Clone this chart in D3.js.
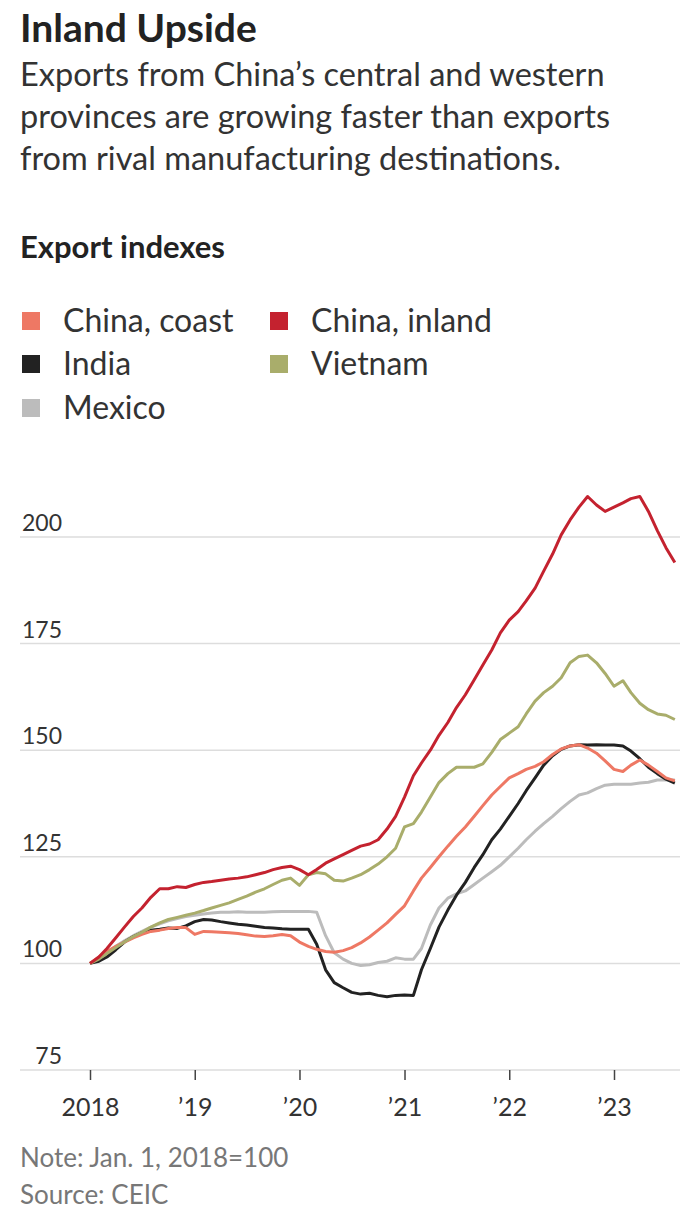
<!DOCTYPE html>
<html>
<head>
<meta charset="utf-8">
<script src="https://cdn.jsdelivr.net/npm/d3@7"></script>
<style>
  body { margin: 0; background: #fff; }
  svg { display: block; font-family: Lato, "Noto Sans", sans-serif; }
</style>
</head>
<body>
<div id="chart"></div>
<script>
// monthly points, Jan 2018 .. Aug 2023
var startMonth = new Date(2018, 0, 1);
var chinaCoast = [100, 101.5, 102.8, 104, 105, 106, 106.8, 107.5, 107.8, 108.2, 108.4, 108.4,
  106.8, 107.5, 107.4, 107.3, 107.2, 107, 106.7, 106.4, 106.3, 106.5, 106.8, 106.5,
  105, 104, 103.3, 102.8, 102.6, 103, 103.7, 104.8, 106.2, 107.8, 109.5, 111.5,
  113.5, 117, 120, 122.5, 125, 127.5, 129.8, 132, 134.5, 137, 139.5, 141.5,
  143.5, 144.5, 145.5, 146.2, 147.3, 149, 150.3, 151, 151.3, 150.5, 149.3, 147.5,
  145.5, 145, 146.5, 147.7, 146.5, 145, 143.5, 142.8];
var chinaInland = [100, 101.5, 103.5, 106, 108.5, 111, 113, 115.5, 117.5, 117.5, 118, 117.8,
  118.5, 119, 119.2, 119.5, 119.8, 120, 120.3, 120.8, 121.3, 122, 122.5, 122.8,
  122, 120.8, 122, 123.5, 124.5, 125.5, 126.5, 127.5, 128, 129, 131.5, 134.5,
  139, 144, 147, 150, 153.5, 156.5, 160, 163, 166.5, 170, 173.5, 177.5,
  180.5, 182.5, 185, 188, 192, 196, 200.5, 204, 207, 209.5, 207.5, 206,
  207, 208, 209, 209.5, 206, 201.5, 197.5, 194];
var india = [100, 100.5, 101.5, 103.2, 105, 106.3, 107.2, 107.8, 108, 108.3, 108.2, 108.8,
  109.8, 110.3, 110.2, 109.8, 109.5, 109.2, 109, 108.7, 108.4, 108.3, 108.1, 108,
  108, 108, 104.5, 98.5, 95.5, 94.3, 93.2, 92.8, 93, 92.5, 92.2, 92.5,
  92.6, 92.5, 98.5, 103.5, 108.5, 112.5, 116, 119, 122.5, 125.5, 129, 131.5,
  134.5, 137.5, 140.5, 143.5, 146.5, 148.7, 150.2, 151, 151.3, 151.2, 151.3, 151.2,
  151.2, 151, 149.8, 148, 146, 144.5, 143.2, 142.3];
var vietnam = [100, 101, 102.3, 103.7, 105, 106.3, 107.3, 108.5, 109.5, 110.3, 110.8, 111.3,
  111.8, 112.4, 113, 113.6, 114.2, 115, 115.8, 116.7, 117.5, 118.5, 119.5, 120,
  118.3, 120.8, 121.3, 121, 119.5, 119.3, 120, 120.8, 122, 123.3, 125, 127,
  132, 132.8, 135.5, 139, 142.4, 144.5, 146, 146, 146, 146.8, 149.5, 152.5,
  154, 155.5, 158.5, 161.5, 163.5, 165, 167, 170.5, 172, 172.3, 170.5, 168,
  165, 166.3, 163.5, 161, 159.5, 158.5, 158.2, 157.2];
var mexico = [100, 101, 102.5, 104, 105.3, 106.5, 107.5, 108.5, 109.3, 110, 110.5, 111,
  111.3, 111.6, 111.8, 112, 112, 112.1, 112, 112, 112, 112.1, 112.2, 112.2,
  112.2, 112.2, 112, 106.5, 102.5, 101, 100, 99.5, 99.7, 100.2, 100.5, 101.3,
  101, 101, 103.5, 109, 113, 115.3, 116.3, 117, 118.5, 120, 121.5, 123,
  125, 127, 129, 131, 132.8, 134.5, 136.3, 138, 139.5, 140, 141, 141.8,
  142, 142, 142, 142.3, 142.5, 143, 143, 143];

var seriesNames = ["China, coast", "China, inland", "India", "Vietnam", "Mexico"];
var seriesColors = ["#ee7864", "#c4222f", "#222222", "#a9ad6b", "#bcbcbc"];
var seriesValues = [chinaCoast, chinaInland, india, vietnam, mexico];
var drawOrder = [4, 2, 0, 3, 1];

var yTicks = [75, 100, 125, 150, 175, 200];
var xTickYears = [2018, 2019, 2020, 2021, 2022, 2023];
var xTickLabels = ["2018", "\u201919", "\u201920", "\u201921", "\u201922", "\u201923"];

var W = 690, H = 1217;
var svg = d3.select("#chart").append("svg")
  .attr("width", W)
  .attr("height", H);

var x = d3.scaleTime()
  .domain([new Date(2018, 0, 1), new Date(2023, 0, 1)])
  .range([90, 614]);
var y = d3.scaleLinear()
  .domain([75, 200])
  .range([1070, 537]);

// header
svg.append("text").attr("x", 20).attr("y", 42)
  .attr("font-size", 39).attr("font-weight", 700).attr("fill", "#222")
  .text("Inland Upside");

var sub = ["Exports from China\u2019s central and western",
  "provinces are growing faster than exports",
  "from rival manufacturing destinations."];
svg.selectAll("text.sub")
  .data(sub)
  .enter()
  .append("text")
  .attr("class", "sub")
  .attr("x", 20)
  .attr("y", function(d, i) { return 86 + i * 42; })
  .attr("font-size", 32.5)
  .attr("fill", "#333")
  .text(function(d) { return d; });

svg.append("text").attr("x", 20).attr("y", 258)
  .attr("font-size", 31).attr("font-weight", 700).attr("fill", "#222")
  .text("Export indexes");

// legend
var legendPos = [[22, 321], [270, 321], [22, 364], [270, 364], [22, 408]];
var leg = svg.selectAll("g.leg")
  .data(seriesNames)
  .enter()
  .append("g")
  .attr("class", "leg")
  .attr("transform", function(d, i) {
    return "translate(" + legendPos[i][0] + "," + legendPos[i][1] + ")";
  });
leg.append("rect")
  .attr("x", 0).attr("y", -9)
  .attr("width", 18).attr("height", 18)
  .attr("fill", function(d, i) { return seriesColors[i]; });
leg.append("text")
  .attr("x", 41).attr("y", 11)
  .attr("font-size", 32)
  .attr("fill", "#333")
  .text(function(d) { return d; });

// grid + y labels
svg.selectAll("line.grid")
  .data(yTicks)
  .enter()
  .append("line")
  .attr("class", "grid")
  .attr("x1", 20).attr("x2", 680)
  .attr("y1", function(d) { return y(d); })
  .attr("y2", function(d) { return y(d); })
  .attr("stroke", "#dddddd")
  .attr("stroke-width", 1.5);

svg.selectAll("text.ylab")
  .data(yTicks)
  .enter()
  .append("text")
  .attr("class", "ylab")
  .attr("x", 62)
  .attr("y", function(d) { return y(d) - 6; })
  .attr("text-anchor", "end")
  .attr("font-size", 23)
  .attr("fill", "#333")
  .text(function(d) { return d; });

// x axis
var xAxis = d3.axisBottom(x)
  .tickValues(xTickYears.map(function(yr) { return new Date(yr, 0, 1); }))
  .tickSize(10)
  .tickFormat(function(d, i) { return xTickLabels[i]; });

var gx = svg.append("g")
  .attr("transform", "translate(0," + y(75) + ")")
  .call(xAxis);
gx.select(".domain").remove();
gx.selectAll("line").attr("stroke", "#444").attr("stroke-width", 1.5);
gx.selectAll("text")
  .attr("font-size", 25)
  .attr("fill", "#333")
  .attr("dy", 0)
  .attr("y", 46)
  .style("font-family", "Lato, 'Noto Sans', sans-serif");

// lines
var line = d3.line()
  .x(function(d, i) { return x(d3.timeMonth.offset(startMonth, i)); })
  .y(function(d) { return y(d); });

drawOrder.forEach(function(k) {
  svg.append("path")
    .datum(seriesValues[k])
    .attr("d", line)
    .attr("fill", "none")
    .attr("stroke", seriesColors[k])
    .attr("stroke-width", 3)
    .attr("stroke-linejoin", "round");
});

// footer
svg.append("text").attr("x", 20).attr("y", 1167)
  .attr("font-size", 26).attr("fill", "#777")
  .text("Note: Jan. 1, 2018=100");
svg.append("text").attr("x", 20).attr("y", 1204)
  .attr("font-size", 26).attr("fill", "#777")
  .text("Source: CEIC");
</script>
</body>
</html>
